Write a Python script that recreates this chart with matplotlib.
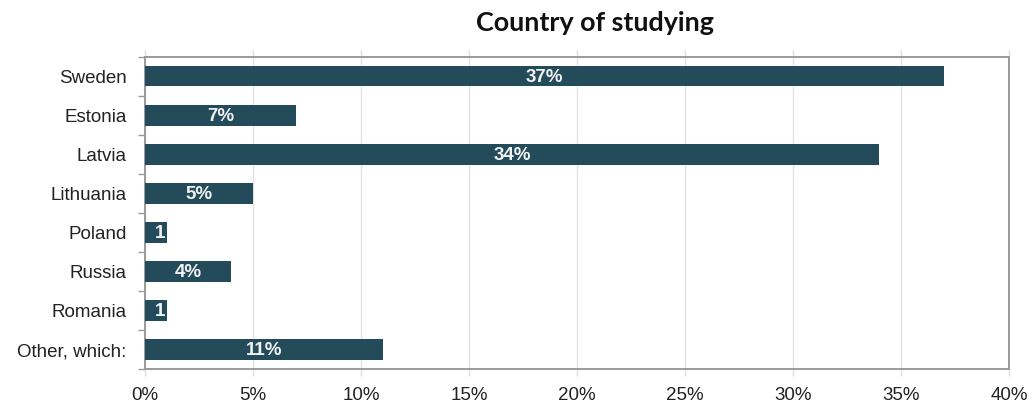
import matplotlib
matplotlib.use("Agg")
import matplotlib.pyplot as plt
import numpy as np

countries = ["Sweden", "Estonia", "Latvia", "Lithuania", "Poland", "Russia", "Romania", "Other, which:"]
shares = [37, 7, 34, 5, 1, 4, 1, 11]
bar_labels = ["37%", "7%", "34%", "5%", "1", "4%", "1", "11%"]
x_ticks = [0, 5, 10, 15, 20, 25, 30, 35, 40]
x_tick_labels = ["0%", "5%", "10%", "15%", "20%", "25%", "30%", "35%", "40%"]

bar_color = "#234b5a"
frame_color = "#9a9a9a"
label_font = "Liberation Sans"

fig = plt.figure(figsize=(10.35, 4.03), dpi=100)
ax = fig.add_axes([0.140, 0.084, 0.835, 0.775])

y = np.arange(len(countries))
ax.barh(y, shares, height=0.52, color=bar_color, zorder=3)

for yi, v, lab in zip(y, shares, bar_labels):
    xpos = v / 2 if lab.endswith("%") else v * 0.72
    ax.text(xpos, yi + 0.03, lab, ha="center", va="center", color="#f2f2f2",
            fontsize=13.5, fontweight="bold", family=label_font, zorder=4)

ax.set_xlim(0, 40)
ax.set_ylim(len(countries) - 0.5, -0.5)
ax.set_xticks(x_ticks)
ax.set_xticklabels(x_tick_labels, family=label_font, fontsize=13.5, color="#222222")
ax.set_yticks(y)
ax.set_yticklabels(countries, family=label_font, fontsize=13.5, color="#222222")
ax.tick_params(axis="y", which="major", length=0, pad=13)
ax.set_yticks(np.arange(-0.5, len(countries) + 0.5, 1), minor=True)
ax.tick_params(axis="y", which="minor", length=5, color=frame_color, width=1)
ax.tick_params(axis="x", which="major", length=0, pad=8)
ax.tick_params(axis="x", which="major", top=True, length=5, color="#dddddd", width=1, labeltop=False)

ax.grid(axis="x", color="#e2e2e2", linewidth=1, zorder=0)

for side in ["top", "right", "left", "bottom"]:
    ax.spines[side].set_color(frame_color)
    ax.spines[side].set_linewidth(1.4)

fig.text(0.575, 0.942, "Country of studying", ha="center", va="center",
         fontsize=19.4, fontweight="bold", family="Lato", color="#111111")

fig.savefig("out.png", dpi=100)
